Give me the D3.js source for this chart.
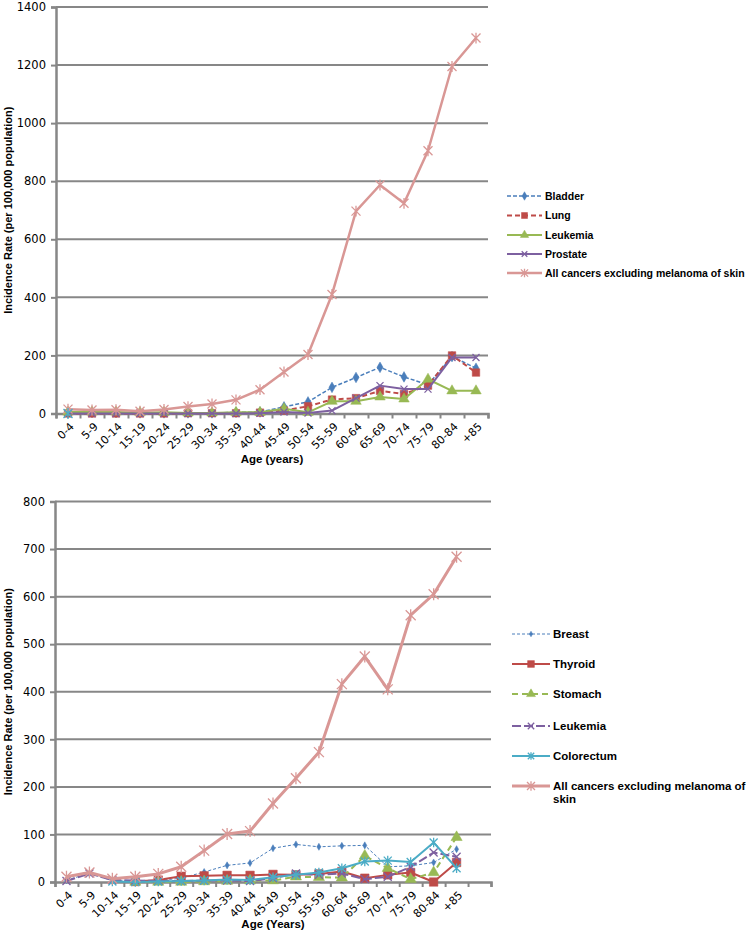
<!DOCTYPE html>
<html>
<head>
<meta charset="utf-8">
<script src="https://cdn.jsdelivr.net/npm/d3@7"></script>
<style>
  body { margin: 0; background: #fff; }
  svg { display: block; }
  .tick text { font-family: "DejaVu Sans", Verdana, sans-serif; fill: #000; }
</style>
</head>
<body>
<div id="chart"></div>
<script>
"use strict";

// == DATA ==
var agesTop = ["0-4","5-9","10-14","15-19","20-24","25-29","30-34","35-39","40-44","45-49","50-54","55-59","60-64","65-69","70-74","75-79","80-84","+85"];
var agesBottom = agesTop.concat([""]); // bottom chart has one blank slot at the end

var bladder  = [2,3,3,2,2,2,2,4,5,23,40,90,124,159,126,99,196,156];
var lung     = [0,0,0,0,0,1,1,1,3,10,25,48,53,78,67,96,200,141];
var leukTop  = [5,5,5,3,4,2,2,4,4,16,4,42,42,57,50,118,78,78];
var prostate = [0,0,0,0,0,0,0,0,1,5,2,10,53,96,84,84,193,193];
var allTop   = [15,12,13,8,14,24,33,47,82,143,203,410,697,787,724,905,1195,1293];
var strayTop = [0,null,null,null,null,null,null,null,null,null,null,null,null,null,null,null,null,null];

var breast     = [4,18,3,2,3,8,21,35,40,71,79,74,76,77,32,34,41,69];
var thyroid    = [null,null,null,1,4,12,13,14,14,16,15,17,22,8,15,20,0,41];
var stomach    = [null,null,null,0,0,0,1,2,3,3,11,10,9,55,29,6,20,94];
var leukBottom = [2,18,4,3,2,2,3,3,2,8,18,15,18,6,11,32,62,53];
var colorectum = [null,null,1,0,1,2,3,5,4,10,15,20,29,43,45,42,83,29];
var allBottom  = [11,20,7,11,17,32,66,101,107,165,218,273,416,474,405,561,605,684];

var ticksTop = [0,200,400,600,800,1000,1200,1400];
var ticksBottom = [0,100,200,300,400,500,600,700,800];

var BLUE = "#4a7ebb", RED = "#be4b48", GREEN = "#98b954", PURPLE = "#7d60a0",
    TEAL = "#4bacc6", PINK = "#d99795", GRID = "#878787";

var svg = d3.select("#chart").append("svg")
  .attr("width", 747).attr("height", 930);

// marker shapes
function markerPath(type, s) {
  if (type === "diamond") return d3.symbol(d3.symbolDiamond, s * s * 0.9)();
  if (type === "square") return d3.symbol(d3.symbolSquare, s * s)();
  if (type === "triangle") return d3.symbol(d3.symbolTriangle, s * s * 0.75)();
  var h = s / 2;
  var p = "M" + (-h) + "," + (-h) + "L" + h + "," + h + "M" + (-h) + "," + h + "L" + h + "," + (-h);
  if (type === "star") p += "M0," + (-h * 1.2) + "L0," + (h * 1.2);
  return p;
}
function isStroked(type) { return type === "x" || type === "star"; }

function drawMarker(g, type, s, color, x, y) {
  g.append("path")
    .attr("d", markerPath(type, s))
    .attr("transform", "translate(" + x + "," + y + ")")
    .attr("fill", isStroked(type) ? "none" : color)
    .attr("stroke", color)
    .attr("stroke-width", isStroked(type) ? 1.3 : 0.5);
}

function drawChart(cfg) {
  var g = svg.append("g");
  var x = d3.scaleBand().domain(cfg.cats).range([cfg.left, cfg.right]).padding(0);
  var y = d3.scaleLinear().domain([0, cfg.max]).range([cfg.bottom, cfg.top]);
  var edges = d3.scaleLinear().domain([0, cfg.cats.length]).range([cfg.left, cfg.right]);

  // gridlines
  g.append("g").selectAll("line").data(cfg.ticks.slice(1)).enter().append("line")
    .attr("x1", cfg.left).attr("x2", cfg.right)
    .attr("y1", function (d) { return y(d); }).attr("y2", function (d) { return y(d); })
    .attr("stroke", GRID).attr("stroke-width", 2);

  // y axis
  var ya = g.append("g").attr("transform", "translate(" + cfg.left + ",0)")
    .call(d3.axisLeft(y).tickValues(cfg.ticks).tickSize(5).tickPadding(5).tickFormat(d3.format("d")));
  ya.select(".domain").attr("stroke", GRID).attr("stroke-width", 2.5);
  ya.selectAll(".tick line").attr("stroke", GRID).attr("stroke-width", 2);
  ya.selectAll(".tick text").style("font-size", "11.5px");

  // x axis: ticks at band edges
  var xe = g.append("g").attr("transform", "translate(0," + cfg.bottom + ")")
    .call(d3.axisBottom(edges).ticks(cfg.cats.length).tickSize(5).tickFormat(""));
  xe.select(".domain").attr("stroke", GRID).attr("stroke-width", 2.5);
  xe.selectAll(".tick line").attr("stroke", GRID).attr("stroke-width", 2);

  // x labels, rotated
  var xl = g.append("g").attr("transform", "translate(0," + cfg.bottom + ")")
    .call(d3.axisBottom(x).tickSize(0).tickPadding(0));
  xl.select(".domain").remove();
  xl.selectAll(".tick text")
    .style("font-size", "11px")
    .attr("text-anchor", "end")
    .attr("dy", "0.35em")
    .attr("transform", "translate(4,11) rotate(-45)");

  // axis titles
  g.append("text")
    .attr("transform", "translate(" + cfg.ytitleX + "," + ((cfg.top + cfg.bottom) / 2) + ") rotate(-90)")
    .attr("text-anchor", "middle")
    .style("font-family", "'Liberation Sans Narrow', 'Liberation Sans', sans-serif")
    .style("font-weight", "bold").style("font-size", "11px")
    .text("Incidence Rate (per 100,000 population)");
  g.append("text")
    .attr("x", (cfg.left + cfg.right) / 2).attr("y", cfg.xtitleY)
    .attr("text-anchor", "middle")
    .style("font-family", "'Liberation Sans', sans-serif")
    .style("font-weight", "bold").style("font-size", "11.5px")
    .text(cfg.xtitle);

  // series
  cfg.series.forEach(function (s) {
    var pts = s.values.map(function (v, i) { return { c: cfg.cats[i], v: v }; });
    var line = d3.line()
      .defined(function (d) { return d.v !== null; })
      .x(function (d) { return x(d.c) + x.bandwidth() / 2; })
      .y(function (d) { return y(d.v); });
    g.append("path").datum(pts)
      .attr("d", line)
      .attr("fill", "none")
      .attr("stroke", s.color)
      .attr("stroke-width", s.width)
      .attr("stroke-dasharray", s.dash || null)
      .attr("stroke-linejoin", "round");
    var mg = g.append("g");
    pts.filter(function (d) { return d.v !== null; }).forEach(function (d) {
      drawMarker(mg, s.marker, s.size, s.color, x(d.c) + x.bandwidth() / 2, y(d.v));
    });
  });

  // legend
  var lg = g.append("g");
  cfg.series.filter(function (s) { return s.name; }).forEach(function (s, i) {
    var ly = cfg.legendY[i];
    lg.append("line")
      .attr("x1", cfg.legendX).attr("x2", cfg.legendX + cfg.legendW)
      .attr("y1", ly).attr("y2", ly)
      .attr("stroke", s.color).attr("stroke-width", s.width)
      .attr("stroke-dasharray", s.dash || null);
    drawMarker(lg, s.marker, s.size * 0.8, s.color, cfg.legendX + cfg.legendW / 2, ly);
    var t = lg.append("text")
      .attr("x", cfg.legendX + cfg.legendW + 3).attr("y", ly)
      .style("font-family", "'Liberation Sans', Arial, sans-serif")
      .style("font-weight", "bold").style("font-size", cfg.legendFont);
    var lines = s.name.split("\n");
    lines.forEach(function (ln, k) {
      t.append("tspan").attr("x", cfg.legendX + cfg.legendW + 3)
        .attr("dy", k === 0 ? "0.35em" : "1.15em").text(ln);
    });
  });
}

drawChart({
  cats: agesTop, max: 1400, ticks: ticksTop,
  left: 56, right: 488, top: 7, bottom: 413.5,
  ytitleX: 12, xtitleY: 463, xtitle: "Age (years)",
  legendX: 507, legendW: 35, legendFont: "10.5px",
  legendY: [196, 215.5, 235, 254, 273],
  series: [
    { name: "Bladder", values: bladder, color: BLUE, width: 1.5, dash: "4,2", marker: "diamond", size: 6 },
    { name: "Lung", values: lung, color: RED, width: 2, dash: "5,3", marker: "square", size: 7.5 },
    { name: "Leukemia", values: leukTop, color: GREEN, width: 2, marker: "triangle", size: 8 },
    { name: "Prostate", values: prostate, color: PURPLE, width: 2, marker: "x", size: 7 },
    { name: "All cancers excluding melanoma of skin", values: allTop, color: PINK, width: 2.5, marker: "star", size: 9 },
    { name: null, values: strayTop, color: TEAL, width: 0, marker: "star", size: 9 }
  ]
});

drawChart({
  cats: agesBottom, max: 800, ticks: ticksBottom,
  left: 55, right: 491, top: 501.5, bottom: 882,
  ytitleX: 12, xtitleY: 928, xtitle: "Age (Years)",
  legendX: 512, legendW: 38, legendFont: "11.5px",
  legendY: [634, 664, 694, 726, 756, 786],
  series: [
    { name: "Breast", values: breast, color: BLUE, width: 1, dash: "3,2", marker: "diamond", size: 4 },
    { name: "Thyroid", values: thyroid, color: RED, width: 2, marker: "square", size: 8.5 },
    { name: "Stomach", values: stomach, color: GREEN, width: 2, dash: "6,4", marker: "triangle", size: 8.5 },
    { name: "Leukemia", values: leukBottom, color: PURPLE, width: 2, dash: "9,3", marker: "x", size: 8 },
    { name: "Colorectum", values: colorectum, color: TEAL, width: 2, marker: "star", size: 8 },
    { name: "All cancers excluding melanoma of\nskin", values: allBottom, color: PINK, width: 3, marker: "star", size: 10 }
  ]
});
</script>
</body>
</html>
